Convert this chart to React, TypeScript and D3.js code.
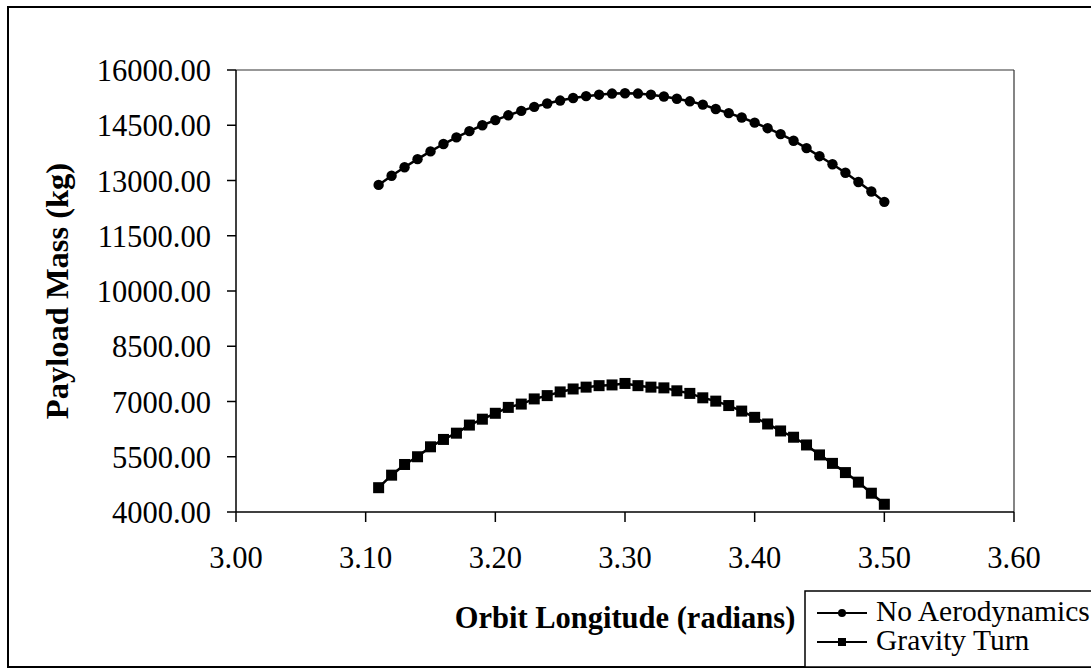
import React from "react";
import * as d3 from "d3";

const longitudes = [
  3.11, 3.12, 3.13, 3.14, 3.15, 3.16, 3.17, 3.18, 3.19, 3.2,
  3.21, 3.22, 3.23, 3.24, 3.25, 3.26, 3.27, 3.28, 3.29, 3.3,
  3.31, 3.32, 3.33, 3.34, 3.35, 3.36, 3.37, 3.38, 3.39, 3.4,
  3.41, 3.42, 3.43, 3.44, 3.45, 3.46, 3.47, 3.48, 3.49, 3.5,
];

const noAerodynamics = [
  12880, 13130, 13360, 13580, 13790, 13990, 14170, 14340, 14500, 14640,
  14770, 14890, 15000, 15090, 15170, 15240, 15290, 15330, 15360, 15370,
  15360, 15330, 15280, 15220, 15150, 15060, 14940, 14830, 14710, 14570,
  14420, 14260, 14080, 13880, 13660, 13440, 13210, 12960, 12700, 12420,
];

const gravityTurn = [
  4660, 5000, 5290, 5500, 5770, 5970, 6140, 6360, 6520, 6680,
  6840, 6930, 7070, 7160, 7260, 7340, 7390, 7430, 7450, 7490,
  7430, 7390, 7370, 7290, 7220, 7100, 7010, 6890, 6740, 6570,
  6390, 6200, 6030, 5820, 5550, 5320, 5070, 4810, 4510, 4210,
];

const xTicks = [3.0, 3.1, 3.2, 3.3, 3.4, 3.5, 3.6];
const yTicks = [4000, 5500, 7000, 8500, 10000, 11500, 13000, 14500, 16000];

const seriesNames = ["No Aerodynamics", "Gravity Turn"];
const xTitle = "Orbit Longitude (radians)";
const yTitle = "Payload Mass (kg)";

const W = 1091;
const H = 669;
const plot = { left: 236, right: 1014, top: 70, bottom: 512 };
const FONT = "'Liberation Serif', 'Times New Roman', serif";

export default function App() {
  const x = d3.scaleLinear().domain([3.0, 3.6]).range([plot.left, plot.right]);
  const y = d3.scaleLinear().domain([4000, 16000]).range([plot.bottom, plot.top]);
  const fmt = d3.format(".2f");

  const line = d3
    .line<number>()
    .x((_, i) => x(longitudes[i]))
    .y((d) => y(d));

  const sq = 11;

  return (
    <svg
      width={W}
      height={H}
      style={{ position: "absolute", left: 0, top: 0, background: "#fff" }}
    >
      {/* outer frame */}
      <rect x={8} y={7} width={1110} height={660} fill="#fff" stroke="#000" strokeWidth={2} />

      {/* plot area border */}
      <line x1={plot.left} y1={plot.top} x2={plot.right} y2={plot.top} stroke="#333" strokeWidth={1.2} />
      <line x1={plot.right} y1={plot.top} x2={plot.right} y2={plot.bottom} stroke="#333" strokeWidth={1.2} />
      <line x1={plot.left} y1={plot.top} x2={plot.left} y2={plot.bottom} stroke="#000" strokeWidth={1.5} />
      <line x1={plot.left} y1={plot.bottom} x2={plot.right} y2={plot.bottom} stroke="#000" strokeWidth={1.5} />

      {/* y ticks */}
      {yTicks.map((t) => (
        <g key={"y" + t}>
          <line x1={plot.left - 9} x2={plot.left} y1={y(t)} y2={y(t)} stroke="#000" strokeWidth={1.5} />
          <text
            x={211}
            y={y(t) + 11}
            textAnchor="end"
            fontFamily={FONT}
            fontSize={30.5}
            fill="#000"
          >
            {fmt(t)}
          </text>
        </g>
      ))}

      {/* x ticks */}
      {xTicks.map((t) => (
        <g key={"x" + t}>
          <line x1={x(t)} x2={x(t)} y1={plot.bottom} y2={plot.bottom + 10} stroke="#000" strokeWidth={1.5} />
          <text
            x={x(t)}
            y={568}
            textAnchor="middle"
            fontFamily={FONT}
            fontSize={30.5}
            fill="#000"
          >
            {fmt(t)}
          </text>
        </g>
      ))}

      {/* axis titles */}
      <text
        x={625}
        y={628}
        textAnchor="middle"
        fontFamily={FONT}
        fontWeight="bold"
        fontSize={30.5}
        fill="#000"
      >
        {xTitle}
      </text>
      <text
        transform={`translate(68, ${(plot.top + plot.bottom) / 2}) rotate(-90)`}
        textAnchor="middle"
        fontFamily={FONT}
        fontWeight="bold"
        fontSize={32.5}
        fill="#000"
      >
        {yTitle}
      </text>

      {/* series: No Aerodynamics */}
      <path d={line(noAerodynamics) || ""} fill="none" stroke="#000" strokeWidth={2.5} />
      {noAerodynamics.map((v, i) => (
        <circle key={"a" + i} cx={x(longitudes[i])} cy={y(v)} r={5.2} fill="#000" />
      ))}

      {/* series: Gravity Turn */}
      <path d={line(gravityTurn) || ""} fill="none" stroke="#000" strokeWidth={2.5} />
      {gravityTurn.map((v, i) => (
        <rect
          key={"g" + i}
          x={x(longitudes[i]) - sq / 2}
          y={y(v) - sq / 2}
          width={sq}
          height={sq}
          fill="#000"
        />
      ))}

      {/* legend */}
      <rect x={805} y={591} width={320} height={76} fill="#fff" stroke="#000" strokeWidth={1.5} />
      <line x1={817} x2={867} y1={613} y2={613} stroke="#000" strokeWidth={2} />
      <circle cx={842} cy={613} r={4} fill="#000" />
      <text x={876} y={621} fontFamily={FONT} fontSize={29.5} fill="#000">
        {seriesNames[0]}
      </text>
      <line x1={817} x2={867} y1={642} y2={642} stroke="#000" strokeWidth={2} />
      <rect x={838} y={638} width={8} height={8} fill="#000" />
      <text x={876} y={650} fontFamily={FONT} fontSize={29.5} fill="#000">
        {seriesNames[1]}
      </text>
    </svg>
  );
}
